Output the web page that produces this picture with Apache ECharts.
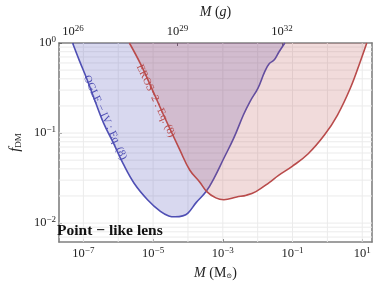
<!DOCTYPE html>
<html>
<head>
<meta charset="utf-8">
<script src="https://cdn.jsdelivr.net/npm/echarts@6/dist/echarts.min.js"></script>
<style>html,body{margin:0;padding:0;background:#fff}#c{width:374px;height:286px}</style>
</head>
<body>
<div id="c"></div>
<script>
// ---- data (log10 values) ----
const ogleLogM = [-7.31,-7.12,-6.89,-6.66,-6.42,-6.14,-5.86,-5.54,-5.16,-4.79,-4.55,-4.37,-4.15,-4.0,-3.76,-3.48,-3.25,-2.97,-2.69,-2.41,-2.22,-1.99,-1.80,-1.67,-1.53,-1.39,-1.22];
const ogleLogF = [0,-0.19,-0.41,-0.65,-0.89,-1.11,-1.34,-1.56,-1.74,-1.87,-1.92,-1.93,-1.92,-1.89,-1.77,-1.65,-1.50,-1.28,-1.06,-0.80,-0.65,-0.50,-0.32,-0.23,-0.19,-0.10,0];
const erosLogM = [-5.68,-5.35,-5.02,-4.70,-4.23,-3.95,-3.67,-3.46,-3.20,-2.97,-2.60,-2.32,-2.05,-1.67,-1.40,-1.01,-0.55,-0.08,0.29,0.66,0.94,1.13];
const erosLogF = [0,-0.24,-0.52,-0.80,-1.19,-1.41,-1.54,-1.65,-1.72,-1.74,-1.71,-1.69,-1.65,-1.55,-1.47,-1.37,-1.23,-1.02,-0.80,-0.50,-0.21,0];
const xTickExps = [-7,-5,-3,-1,1];
const xGridExps = [-7,-6,-5,-4,-3,-2,-1,0,1];
const yTickExps = [0,-1,-2];
const yGridDecades = [-3,-2,-1];
const minorMults = [1,2,3,4,5,6,7,8,9];
const topTickExps = [26,29,32];
const logMsunGram = 33.2986;
const xMin = -7.70, xMax = 1.28, yMin = -2.21, yMax = 0;

const serif = 'Liberation Serif';
const pairs = (a,b) => a.map((v,i)=>[v,b[i]]);
const minus = s => String(s).replace('-', '\u2212');
const powLabel = v => '{b|10}{s|' + minus(Math.round(v)) + '}';
const tickRich = {
  b:{fontFamily:serif,fontSize:12.5,color:'#222',lineHeight:16},
  s:{fontFamily:serif,fontSize:9,color:'#222',lineHeight:9,verticalAlign:'top'}
};
const yGridVals = [];
yGridDecades.forEach(d => minorMults.forEach(k => {
  const v = d + Math.log10(k);
  if (v > yMin && v < yMax) yGridVals.push(v);
}));
// grid line segments separated by gaps
const gridData = [];
xGridExps.forEach(v => { gridData.push([v,yMin],[v,yMax],['-','-']); });
yGridVals.forEach(v => { gridData.push([xMin,v],[xMax,v],['-','-']); });

const blue = '#4f4fb4', red = '#b94b4b';
const frameLine = {show:true,onZero:false,lineStyle:{color:'#808080',width:1.6}};
const chart = echarts.init(document.getElementById('c'), null, {renderer:'canvas'});
chart.setOption({
  animation:false,
  grid:{left:51,right:2,top:43,bottom:44},
  xAxis:[{
    type:'value', position:'bottom', min:xMin, max:xMax,
    axisLine:frameLine,
    axisTick:{show:true,inside:true,length:3,customValues:xTickExps,lineStyle:{color:'#666'}},
    axisLabel:{customValues:xTickExps,formatter:powLabel,rich:tickRich,margin:4},
    splitLine:{show:false},
    name:'{i|M}{n| (M}{sub|\u2299}{n|)}', nameLocation:'middle', nameGap:24,
    nameTextStyle:{rich:{
      i:{fontFamily:serif,fontStyle:'italic',fontSize:14,color:'#222'},
      n:{fontFamily:serif,fontSize:14,color:'#222'},
      sub:{fontFamily:'DejaVu Serif',fontSize:7,color:'#222',verticalAlign:'bottom',lineHeight:8}
    }}
  },{
    type:'value', position:'top', min:xMin+logMsunGram, max:xMax+logMsunGram,
    axisLine:frameLine,
    axisTick:{show:true,inside:true,length:3,customValues:topTickExps,lineStyle:{color:'#666'}},
    axisLabel:{customValues:topTickExps,formatter:powLabel,rich:tickRich,margin:3},
    splitLine:{show:false},
    name:'{i|M}{n| (}{i|g}{n|)}', nameLocation:'middle', nameGap:22,
    nameTextStyle:{rich:{
      i:{fontFamily:serif,fontStyle:'italic',fontSize:14,color:'#222'},
      n:{fontFamily:serif,fontSize:14,color:'#222'}
    }}
  }],
  yAxis:[{
    type:'value', position:'left', min:yMin, max:yMax,
    axisLine:frameLine,
    axisTick:{show:true,inside:true,length:3,customValues:yTickExps,lineStyle:{color:'#666'}},
    axisLabel:{customValues:yTickExps,formatter:powLabel,rich:tickRich,margin:3},
    splitLine:{show:false},
    name:'{i|f}{sub|DM}', nameLocation:'middle', nameGap:28,
    nameTextStyle:{rich:{
      i:{fontFamily:serif,fontStyle:'italic',fontSize:15,color:'#222'},
      sub:{fontFamily:serif,fontSize:9,color:'#222',verticalAlign:'bottom',lineHeight:9}
    }}
  },{
    type:'value', position:'right', min:yMin, max:yMax,
    axisLine:frameLine,
    axisTick:{show:false}, axisLabel:{show:false}, splitLine:{show:false}
  }],
  series:[{
    name:'grid', type:'line', data:gridData, connectNulls:false, showSymbol:false, silent:true, z:0,
    lineStyle:{color:'#ebebeb',width:1,type:'solid'}, emphasis:{disabled:true}
  },{
    name:'OGLE', type:'line', data:pairs(ogleLogM,ogleLogF), smooth:0.4, showSymbol:false,
    lineStyle:{color:blue,width:1.6,type:'solid'}, itemStyle:{color:blue},
    areaStyle:{origin:'end',color:blue,opacity:0.22}, z:2
  },{
    name:'EROS', type:'line', data:pairs(erosLogM,erosLogF), smooth:0.4, showSymbol:false,
    lineStyle:{color:red,width:1.6,type:'solid'}, itemStyle:{color:red},
    areaStyle:{origin:'end',color:red,opacity:0.2}, z:3
  }],
  graphic:[{
    type:'text', x:105, y:117.5, rotation:-65.6*Math.PI/180, z:10,
    style:{text:'OGLE \u2212 IV : Eq. (8)', fill:blue, font:'11px "Liberation Serif"', align:'center', verticalAlign:'middle'}
  },{
    type:'text', x:155.8, y:100.8, rotation:-65*Math.PI/180, z:10,
    style:{text:'EROS\u22122 : Eq. (8)', fill:red, font:'11px "Liberation Serif"', align:'center', verticalAlign:'middle'}
  },{
    type:'text', x:57, y:231, z:10,
    style:{text:'Point \u2212 like lens', fill:'#111', font:'bold 15.5px "Liberation Serif"', align:'left', verticalAlign:'middle'}
  }]
});
</script>
</body>
</html>
